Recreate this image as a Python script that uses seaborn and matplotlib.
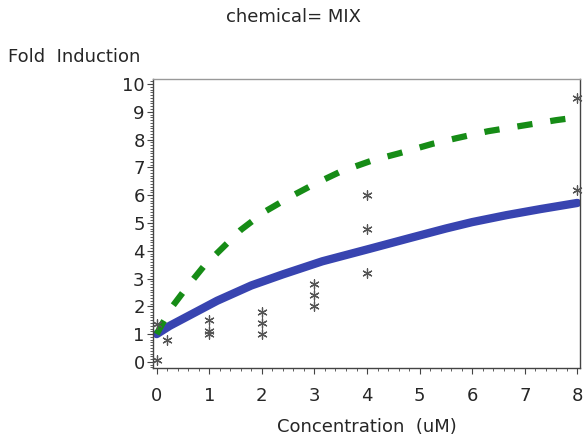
import numpy as np
import pandas as pd
import matplotlib
matplotlib.use("Agg")
import matplotlib.pyplot as plt
import seaborn as sns
from matplotlib.ticker import MultipleLocator

# observed fold induction (asterisks)
obs_conc = [0, 0, 0.2, 1, 1, 1, 2, 2, 2, 3, 3, 3, 4, 4, 4, 8, 8]
obs_fold = [0.05, 1.35, 0.8, 1.5, 1.1, 1.0, 1.8, 1.4, 1.0, 2.8, 2.4, 2.0, 6.0, 4.8, 3.2, 9.5, 6.2]

# fitted curves
fit_conc = [0, 0.1, 0.3, 0.6, 0.9, 1.25, 1.6, 2.05, 2.55, 3.0, 3.5, 4.1, 4.6, 5.25, 5.7, 6.3, 6.95, 7.6, 8.0]
mix_fold = [1.0, 1.35, 2.0, 2.75, 3.45, 4.1, 4.75, 5.4, 5.95, 6.4, 6.85, 7.25, 7.5, 7.85, 8.05, 8.3, 8.5, 8.7, 8.8]
add_conc = [0, 0.25, 0.5, 0.8, 1.15, 1.8, 2.4, 3.15, 4.05, 4.8, 5.5, 6.0, 6.65, 7.3, 8.0]
add_fold = [1.0, 1.3, 1.55, 1.85, 2.2, 2.75, 3.15, 3.62, 4.07, 4.45, 4.8, 5.03, 5.28, 5.5, 5.72]

df_obs = pd.DataFrame({"conc": obs_conc, "fold": obs_fold})
df_mix = pd.DataFrame({"conc": fit_conc, "fold": mix_fold})
df_add = pd.DataFrame({"conc": add_conc, "fold": add_fold})

sns.set_style("white")
plt.rcParams['font.family'] = ['DejaVu Sans']
plt.rcParams['lines.scale_dashes'] = False
plt.rcParams['lines.dash_capstyle'] = 'butt'

fig = plt.figure(figsize=(5.85, 4.42), dpi=100)
ax = fig.add_axes([153/585, 1 - 368/442, (580 - 153)/585, (368 - 79)/442])

sns.lineplot(data=df_add, x="conc", y="fold", ax=ax, color="#3844b0", linewidth=6,
             solid_capstyle="round")
sns.lineplot(data=df_mix, x="conc", y="fold", ax=ax, color="#168c16", linewidth=4.5)
green = ax.lines[-1]
green.set_linestyle((0, (11, 13)))
green.set_dash_capstyle("butt")
sns.scatterplot(data=df_obs, x="conc", y="fold", ax=ax, marker=(6, 2, 0), s=45,
                color="#555555", edgecolor="#555555", linewidth=0.9, zorder=5, clip_on=False)

ax.set_xlim(-0.07, 8.05)
ax.set_ylim(-0.22, 10.18)
ax.xaxis.set_major_locator(MultipleLocator(1))
ax.xaxis.set_minor_locator(MultipleLocator(0.2))
ax.yaxis.set_major_locator(MultipleLocator(1))
ax.yaxis.set_minor_locator(MultipleLocator(0.1))
ax.tick_params(axis="both", which="major", direction="out", length=4, width=0.8,
               color="#444444", labelsize=13, pad=2)
ax.tick_params(axis="both", which="minor", direction="out", length=2.5, width=0.6,
               color="#444444")
ax.tick_params(axis="x", pad=10)
ax.tick_params(left=True, bottom=True, which="both")

for side in ["left", "bottom", "right"]:
    ax.spines[side].set_color("#444444")
    ax.spines[side].set_linewidth(1.0)
ax.spines["top"].set_color("#999999")
ax.spines["top"].set_linewidth(1.0)

ax.set_xlabel("Concentration  (uM)", fontsize=13, labelpad=9)
ax.set_ylabel("")
fig.text(8/585, 1 - 57/442, "Fold  Induction", fontsize=13, va="center", ha="left")
fig.text(294/585, 1 - 17/442, "chemical= MIX", fontsize=13, va="center", ha="center")

fig.savefig("out.png", dpi=100)
